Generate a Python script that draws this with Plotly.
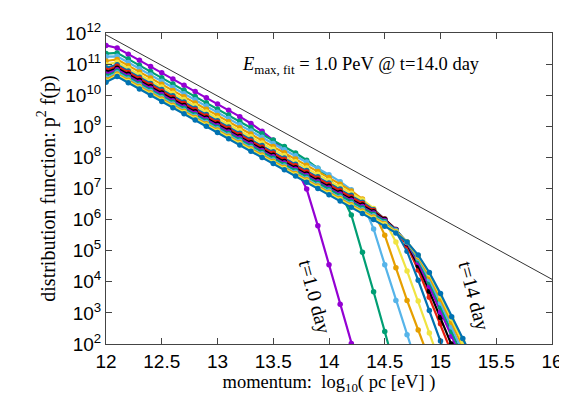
import plotly.graph_objects as go

# log10 of momentum grid (pc in eV)
logp = [12.0, 12.1, 12.2, 12.3, 12.4, 12.5, 12.6, 12.7, 12.8, 12.9,
        13.0, 13.1, 13.2, 13.3, 13.4, 13.5, 13.6, 13.7, 13.8, 13.9,
        14.0, 14.1, 14.2, 14.3, 14.4, 14.5, 14.6, 14.7, 14.8, 14.9,
        15.0, 15.1, 15.2, 15.3]

# log10 of p^2 f(p) for t = 1 .. 14 day
t01 = [11.60, 11.52, 11.32, 11.12, 10.92, 10.72, 10.52, 10.32, 10.12, 9.92, 9.72, 9.52, 9.31, 9.09, 8.84, 8.55, 8.18, 7.68, 6.98, 5.80, 4.55, 3.28, 2.02, 0.80]
t02 = [11.34, 11.36, 11.16, 10.96, 10.76, 10.56, 10.36, 10.16, 9.96, 9.76, 9.56, 9.36, 9.16, 8.96, 8.76, 8.56, 8.35, 8.14, 7.91, 7.65, 7.33, 6.88, 6.15, 4.95, 3.68, 2.40, 1.10]
t03 = [11.24, 11.25, 11.05, 10.85, 10.65, 10.45, 10.25, 10.05, 9.85, 9.65, 9.45, 9.25, 9.05, 8.85, 8.65, 8.45, 8.25, 8.05, 7.85, 7.65, 7.44, 7.22, 6.96, 6.55, 5.70, 4.55, 3.40, 2.30, 1.20]
t04 = [11.10, 11.15, 10.95, 10.75, 10.55, 10.35, 10.15, 9.95, 9.75, 9.55, 9.35, 9.15, 8.95, 8.75, 8.55, 8.35, 8.15, 7.95, 7.75, 7.55, 7.35, 7.14, 6.92, 6.66, 6.25, 5.50, 4.45, 3.40, 2.45, 1.50]
t05 = [10.98, 11.06, 10.86, 10.66, 10.46, 10.26, 10.06, 9.86, 9.66, 9.46, 9.26, 9.06, 8.86, 8.66, 8.46, 8.26, 8.06, 7.86, 7.66, 7.46, 7.26, 7.06, 6.85, 6.63, 6.36, 5.96, 5.28, 4.35, 3.38, 2.35, 1.35]
t06 = [10.88, 10.98, 10.78, 10.58, 10.38, 10.18, 9.98, 9.78, 9.58, 9.38, 9.18, 8.98, 8.78, 8.58, 8.38, 8.18, 7.98, 7.78, 7.58, 7.38, 7.18, 6.98, 6.78, 6.56, 6.32, 6.02, 5.62, 4.98, 4.05, 3.08, 2.10, 1.10]
t07 = [10.80, 10.93, 10.73, 10.53, 10.33, 10.13, 9.93, 9.73, 9.53, 9.33, 9.13, 8.93, 8.73, 8.53, 8.33, 8.13, 7.93, 7.73, 7.53, 7.33, 7.13, 6.93, 6.73, 6.52, 6.29, 6.02, 5.68, 5.16, 4.38, 3.50, 2.65, 1.72]
t08 = [10.74, 10.87, 10.67, 10.47, 10.27, 10.07, 9.87, 9.67, 9.47, 9.27, 9.07, 8.87, 8.67, 8.47, 8.27, 8.07, 7.87, 7.67, 7.47, 7.27, 7.07, 6.87, 6.67, 6.47, 6.25, 6.00, 5.68, 5.22, 4.52, 3.70, 2.85, 2.00, 1.10]
t09 = [10.68, 10.82, 10.62, 10.42, 10.22, 10.02, 9.82, 9.62, 9.42, 9.22, 9.02, 8.82, 8.62, 8.42, 8.22, 8.02, 7.82, 7.62, 7.42, 7.22, 7.02, 6.82, 6.62, 6.42, 6.21, 5.97, 5.67, 5.25, 4.62, 3.85, 3.02, 2.25, 1.45]
t10 = [10.62, 10.77, 10.57, 10.37, 10.17, 9.97, 9.77, 9.57, 9.37, 9.17, 8.97, 8.77, 8.57, 8.37, 8.17, 7.97, 7.77, 7.57, 7.37, 7.17, 6.97, 6.77, 6.57, 6.37, 6.17, 5.94, 5.66, 5.27, 4.70, 3.98, 3.18, 2.40, 1.60]
t11 = [10.55, 10.72, 10.52, 10.32, 10.12, 9.92, 9.72, 9.52, 9.32, 9.12, 8.92, 8.72, 8.52, 8.32, 8.12, 7.92, 7.72, 7.52, 7.32, 7.12, 6.92, 6.72, 6.52, 6.32, 6.12, 5.90, 5.64, 5.28, 4.76, 4.08, 3.32, 2.55, 1.75]
t12 = [10.50, 10.68, 10.48, 10.28, 10.08, 9.88, 9.68, 9.48, 9.28, 9.08, 8.88, 8.68, 8.48, 8.28, 8.08, 7.88, 7.68, 7.48, 7.28, 7.08, 6.88, 6.68, 6.48, 6.28, 6.08, 5.87, 5.62, 5.28, 4.80, 4.17, 3.44, 2.70, 1.92, 1.10]
t13 = [10.45, 10.64, 10.44, 10.24, 10.04, 9.84, 9.64, 9.44, 9.24, 9.04, 8.84, 8.64, 8.44, 8.24, 8.04, 7.84, 7.64, 7.44, 7.24, 7.04, 6.84, 6.64, 6.44, 6.24, 6.04, 5.84, 5.60, 5.28, 4.84, 4.25, 3.55, 2.82, 2.08, 1.30]
t14 = [10.42, 10.60, 10.40, 10.20, 10.00, 9.80, 9.60, 9.40, 9.20, 9.00, 8.80, 8.60, 8.40, 8.20, 8.00, 7.80, 7.60, 7.40, 7.20, 7.00, 6.80, 6.60, 6.40, 6.20, 6.00, 5.79, 5.57, 5.28, 4.86, 4.30, 3.62, 2.88, 2.18, 1.45]

series = [t01, t02, t03, t04, t05, t06, t07, t08, t09, t10, t11, t12, t13, t14]
palette = ["#9400D3", "#009E73", "#56B4E9", "#E69F00", "#F0E442", "#0072B2", "#E51E10", "#000000"]

# reference power-law line
ref_x = [12.0, 16.0]
ref_logy = [11.94, 4.08]

xticks = [12, 12.5, 13, 13.5, 14, 14.5, 15, 15.5, 16]
xtick_text = ["12", "12.5", "13", "13.5", "14", "14.5", "15", "15.5", "16"]
ydecades = [2, 3, 4, 5, 6, 7, 8, 9, 10, 11, 12]

fig = go.Figure()
fig.add_trace(go.Scatter(x=ref_x, y=[10 ** v for v in ref_logy], mode="lines",
                         line=dict(color="#333333", width=1), showlegend=False, hoverinfo="skip"))
for i, s in enumerate(series):
    c = palette[i % len(palette)]
    fig.add_trace(go.Scatter(x=logp[:len(s)], y=[10 ** v for v in s], mode="lines+markers",
                             line=dict(color=c, width=2.2),
                             marker=dict(color=c, size=5.5, symbol="circle"),
                             showlegend=False))

serif = "Liberation Serif, Times New Roman, serif"
sans = "Liberation Sans, Arial, sans-serif"

axis_common = dict(showline=True, linecolor="#444444", linewidth=1, mirror="ticks",
                   ticks="inside", ticklen=6, tickcolor="#444444", showgrid=False,
                   zeroline=False, tickfont=dict(family=sans, size=19, color="black"))

fig.update_layout(
    width=567, height=394,
    margin=dict(l=98, r=21, t=22, b=58),
    paper_bgcolor="white", plot_bgcolor="white",
    xaxis=dict(range=[12, 16], tickvals=xticks, ticktext=xtick_text,
               title=dict(text="momentum:  log<sub>10</sub>( pc [eV] )",
                          font=dict(family=serif, size=18.5, color="black"), standoff=0),
               **axis_common),
    yaxis=dict(type="log", range=[2, 12], tickvals=[10 ** k for k in ydecades],
               ticktext=["10<sup>%d</sup>" % k for k in ydecades],
               title=dict(text="distribution function: p<sup>2</sup> f(p)",
                          font=dict(family=serif, size=20, color="black"), standoff=4),
               **axis_common),
    annotations=[
        dict(x=13.2, y=10.95, xref="x", yref="y", xanchor="left", yanchor="middle",
             text="<i>E</i><sub>max, fit</sub> = 1.0 PeV @ t=14.0 day", showarrow=False,
             font=dict(family=serif, size=18.5, color="black")),
        dict(x=13.87, y=3.53, xref="x", yref="y", text="t=1.0 day", showarrow=False,
             textangle=75, font=dict(family=serif, size=20, color="black")),
        dict(x=15.30, y=3.53, xref="x", yref="y", text="t=14 day", showarrow=False,
             textangle=75, font=dict(family=serif, size=20, color="black")),
    ],
)

fig.write_html("out.html")
